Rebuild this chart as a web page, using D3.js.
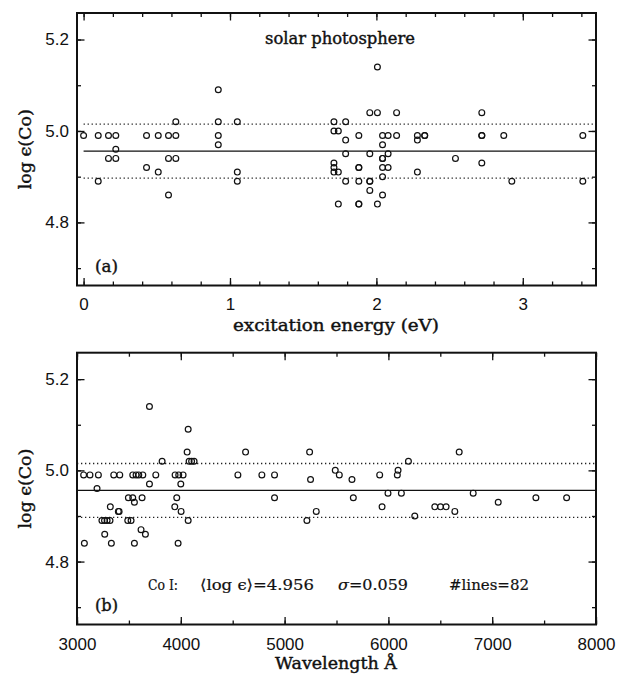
<!DOCTYPE html>
<head>
<meta charset="utf-8">
<style>
body { margin: 0; background: #fff; }
svg text { fill: #111; }
.tick line { stroke: #111; stroke-width: 1.3; }
.ticklab text { font-family: "Liberation Sans", Arial, sans-serif; font-size: 17px; }
.ttl { font-family: "DejaVu Serif", serif; font-size: 16px; stroke: #111; stroke-width: 0.4px; }
.note { font-family: "DejaVu Serif", serif; font-size: 15px; stroke: #111; stroke-width: 0.2px; }
</style>
</head>
<body>
<div id="chart"></div>
<script src="https://d3js.org/d3.v7.min.js"></script>
<script>
// panel (a): abundance vs excitation energy
var excitation = [0.00, 0.10, 0.10, 0.17, 0.17, 0.22, 0.22, 0.22, 0.43, 0.43, 0.51, 0.51,
  0.58, 0.58, 0.58, 0.63, 0.63, 0.63, 0.92, 0.92, 0.92, 0.92, 1.05, 1.05, 1.05,
  1.71, 1.71, 1.71, 1.71, 1.71, 1.74, 1.74, 1.74, 1.79, 1.79, 1.79, 1.79,
  1.88, 1.88, 1.88, 1.88, 1.88, 1.88, 1.955, 1.955, 1.955, 1.955, 1.955, 2.007, 2.007, 2.007,
  2.042, 2.042, 2.042, 2.042, 2.042, 2.042, 2.042, 2.08, 2.08, 2.08, 2.138, 2.138,
  2.28, 2.28, 2.28, 2.33, 2.33, 2.54, 2.72, 2.72, 2.72, 2.72, 2.87, 2.925, 3.41, 3.41];
var logEpsA = [4.99, 4.99, 4.89, 4.99, 4.94, 4.99, 4.96, 4.94, 4.99, 4.92, 4.99, 4.91,
  4.99, 4.94, 4.86, 5.02, 4.99, 4.94, 5.09, 5.02, 4.99, 4.97, 5.02, 4.91, 4.89,
  5.02, 5.00, 4.93, 4.92, 4.91, 5.00, 4.91, 4.84, 5.02, 4.98, 4.95, 4.89,
  4.99, 4.92, 4.92, 4.89, 4.84, 4.84, 5.04, 4.95, 4.89, 4.89, 4.87, 5.14, 5.04, 4.84,
  4.99, 4.97, 4.94, 4.94, 4.92, 4.90, 4.86, 4.99, 4.95, 4.92, 5.04, 4.99,
  4.99, 4.98, 4.91, 4.99, 4.99, 4.94, 5.04, 4.99, 4.99, 4.93, 4.99, 4.89, 4.99, 4.89];

// panel (b): abundance vs wavelength (Angstrom)
var wavelength = [3064, 3125, 3206, 3354, 3412, 3537, 3569, 3595, 3634, 3759, 3945, 3980, 4022,
  4550, 4781, 4903, 5527, 5916, 6086, 5488, 6093, 3820, 4080, 4104, 4128, 6193,
  4061, 4624, 5241, 6682, 4071, 3698, 5250, 5649, 3698, 4000, 3193, 5996, 6125, 6817,
  3495, 3537, 3627, 3961, 4903, 5662, 7421, 7717, 3553, 7058,
  3321, 3942, 5939, 6447, 6502, 6556, 3398, 3406, 4003, 5305, 6640, 6254,
  3240, 3265, 3290, 3318, 3489, 3521, 4071, 5215, 3617, 3267, 3659, 3071, 3331, 3553, 3974];
var logEpsB = [4.99, 4.99, 4.99, 4.99, 4.99, 4.99, 4.99, 4.99, 4.99, 4.99, 4.99, 4.99, 4.99,
  4.99, 4.99, 4.99, 4.99, 4.99, 4.99, 5.00, 5.00, 5.02, 5.02, 5.02, 5.02, 5.02,
  5.04, 5.04, 5.04, 5.04, 5.09, 5.14, 4.98, 4.98, 4.97, 4.97, 4.96, 4.95, 4.95, 4.95,
  4.94, 4.94, 4.94, 4.94, 4.94, 4.94, 4.94, 4.94, 4.93, 4.93,
  4.92, 4.92, 4.92, 4.92, 4.92, 4.92, 4.91, 4.91, 4.91, 4.91, 4.91, 4.90,
  4.89, 4.89, 4.89, 4.89, 4.89, 4.89, 4.89, 4.89, 4.87, 4.86, 4.86, 4.84, 4.84, 4.84, 4.84];

var meanLog = 4.956, sigmaLog = 0.059, nLines = 82;

// ticks
var yMajor = [4.8, 5.0, 5.2];
var yMinor = [4.7, 4.8, 4.9, 5.0, 5.1, 5.2];
var xMajorA = [0, 1, 2, 3];
var xMinorA = [0, 0.2, 0.4, 0.6, 0.8, 1, 1.2, 1.4, 1.6, 1.8, 2, 2.2, 2.4, 2.6, 2.8, 3, 3.2, 3.4];
var xMajorB = [3000, 4000, 5000, 6000, 7000, 8000];
var xMinorB = [3000, 3500, 4000, 4500, 5000, 5500, 6000, 6500, 7000, 7500, 8000];

var W = 629, H = 675;
var left = 77, right = 596;
var yDomain = [4.662, 5.258];

var svg = d3.select("#chart").append("svg")
    .attr("width", W)
    .attr("height", H);

function drawPanel(p) {
  var x = d3.scaleLinear().domain(p.xDomain).range([left, right]);
  var y = d3.scaleLinear().domain(yDomain).range([p.bottom, p.top]);
  var g = svg.append("g");

  function tickAxis(axis, tx, ty) {
    var a = g.append("g")
        .attr("transform", "translate(" + tx + "," + ty + ")")
        .call(axis);
    a.select(".domain").remove();
    return a;
  }
  // minor ticks on all four sides
  tickAxis(d3.axisBottom(x).tickValues(p.xMinor).tickSizeInner(-4).tickSizeOuter(0).tickFormat(""), 0, p.bottom);
  tickAxis(d3.axisTop(x).tickValues(p.xMinor).tickSizeInner(-4).tickSizeOuter(0).tickFormat(""), 0, p.top);
  tickAxis(d3.axisLeft(y).tickValues(yMinor).tickSizeInner(-4).tickSizeOuter(0).tickFormat(""), left, 0);
  tickAxis(d3.axisRight(y).tickValues(yMinor).tickSizeInner(-4).tickSizeOuter(0).tickFormat(""), right, 0);
  // major ticks, labels on bottom and left
  tickAxis(d3.axisBottom(x).tickValues(p.xMajor).tickSizeInner(-7.5).tickSizeOuter(0)
      .tickPadding(p.xPad).tickFormat(d3.format("d")), 0, p.bottom).attr("class", "ticklab");
  tickAxis(d3.axisTop(x).tickValues(p.xMajor).tickSizeInner(-7.5).tickSizeOuter(0).tickFormat(""), 0, p.top);
  tickAxis(d3.axisLeft(y).tickValues(yMajor).tickSizeInner(-7.5).tickSizeOuter(0)
      .tickPadding(8).tickFormat(d3.format(".1f")), left, 0).attr("class", "ticklab");
  tickAxis(d3.axisRight(y).tickValues(yMajor).tickSizeInner(-7.5).tickSizeOuter(0).tickFormat(""), right, 0);
  g.selectAll(".ticklab text").attr("fill", "#111");

  // mean and +-sigma lines
  var x0 = x(p.lineFrom);
  g.append("line").attr("x1", x0).attr("x2", right)
      .attr("y1", y(meanLog)).attr("y2", y(meanLog))
      .attr("stroke", "#111").attr("stroke-width", 1.1);
  [meanLog + sigmaLog, meanLog - sigmaLog].forEach(function(v) {
    g.append("line").attr("x1", x0).attr("x2", right)
        .attr("y1", y(v)).attr("y2", y(v))
        .attr("stroke", "#222").attr("stroke-width", 1.3)
        .attr("stroke-dasharray", "1.3,2.7");
  });

  // points
  g.selectAll("circle.pt")
      .data(p.xs)
    .enter().append("circle")
      .attr("class", "pt")
      .attr("cx", function(d) { return x(d); })
      .attr("cy", function(d, i) { return y(p.ys[i]); })
      .attr("r", 2.9)
      .attr("fill", "none")
      .attr("stroke", "#111")
      .attr("stroke-width", 1.2);

  // frame
  g.append("rect")
      .attr("x", left).attr("y", p.top)
      .attr("width", right - left).attr("height", p.bottom - p.top)
      .attr("fill", "none").attr("stroke", "#111").attr("stroke-width", 2);

  // y title
  g.append("text")
      .attr("class", "ttl")
      .attr("text-anchor", "middle")
      .attr("transform", "translate(31," + ((p.top + p.bottom) / 2) + ")rotate(-90)")
      .attr("textLength", 80).attr("lengthAdjust", "spacingAndGlyphs")
      .text("log \u03f5(Co)");
  // x title
  g.append("text")
      .attr("class", "ttl")
      .attr("text-anchor", "middle")
      .attr("x", p.xTitleX).attr("y", p.xTitleY)
      .attr("textLength", p.xTitleLen).attr("lengthAdjust", "spacingAndGlyphs")
      .text(p.xTitle);
  // panel tag
  g.append("text")
      .attr("class", "ttl")
      .attr("x", 95).attr("y", p.bottom - 13.5)
      .attr("textLength", 23).attr("lengthAdjust", "spacingAndGlyphs")
      .text(p.tag);
  return g;
}

drawPanel({
  xDomain: [-0.045, 3.5], top: 13, bottom: 285.5,
  xMajor: xMajorA, xMinor: xMinorA, xPad: 12, lineFrom: 0,
  xs: excitation, ys: logEpsA,
  xTitle: "excitation energy (eV)", xTitleX: 336, xTitleY: 331, xTitleLen: 206,
  tag: "(a)"
});
drawPanel({
  xDomain: [3000, 8000], top: 352.7, bottom: 624.5,
  xMajor: xMajorB, xMinor: xMinorB, xPad: 13, lineFrom: 3000,
  xs: wavelength, ys: logEpsB,
  xTitle: "Wavelength \u00c5", xTitleX: 336, xTitleY: 669, xTitleLen: 122,
  tag: "(b)"
});

svg.append("text").attr("class", "ttl")
    .attr("x", 265).attr("y", 44)
    .attr("textLength", 150).attr("lengthAdjust", "spacingAndGlyphs")
    .text("solar photosphere");

// statistics line in panel (b)
var stats = [
  {t: "Co I:", x: 148, len: 30},
  {t: "\u27e8log \u03f5\u27e9=4.956", x: 200, len: 114},
  {t: "\u03c3=" + sigmaLog.toFixed(3), x: 338, len: 70, italicFirst: true},
  {t: "#lines=" + nLines, x: 449, len: 80}
];
stats.forEach(function(s) {
  var t = svg.append("text").attr("class", "note")
      .attr("x", s.x).attr("y", 589.5)
      .attr("textLength", s.len).attr("lengthAdjust", "spacingAndGlyphs");
  if (s.italicFirst) {
    t.append("tspan").attr("font-style", "italic").text(s.t.charAt(0));
    t.append("tspan").text(s.t.slice(1));
  } else {
    t.text(s.t);
  }
});
</script>
</body>
</html>
